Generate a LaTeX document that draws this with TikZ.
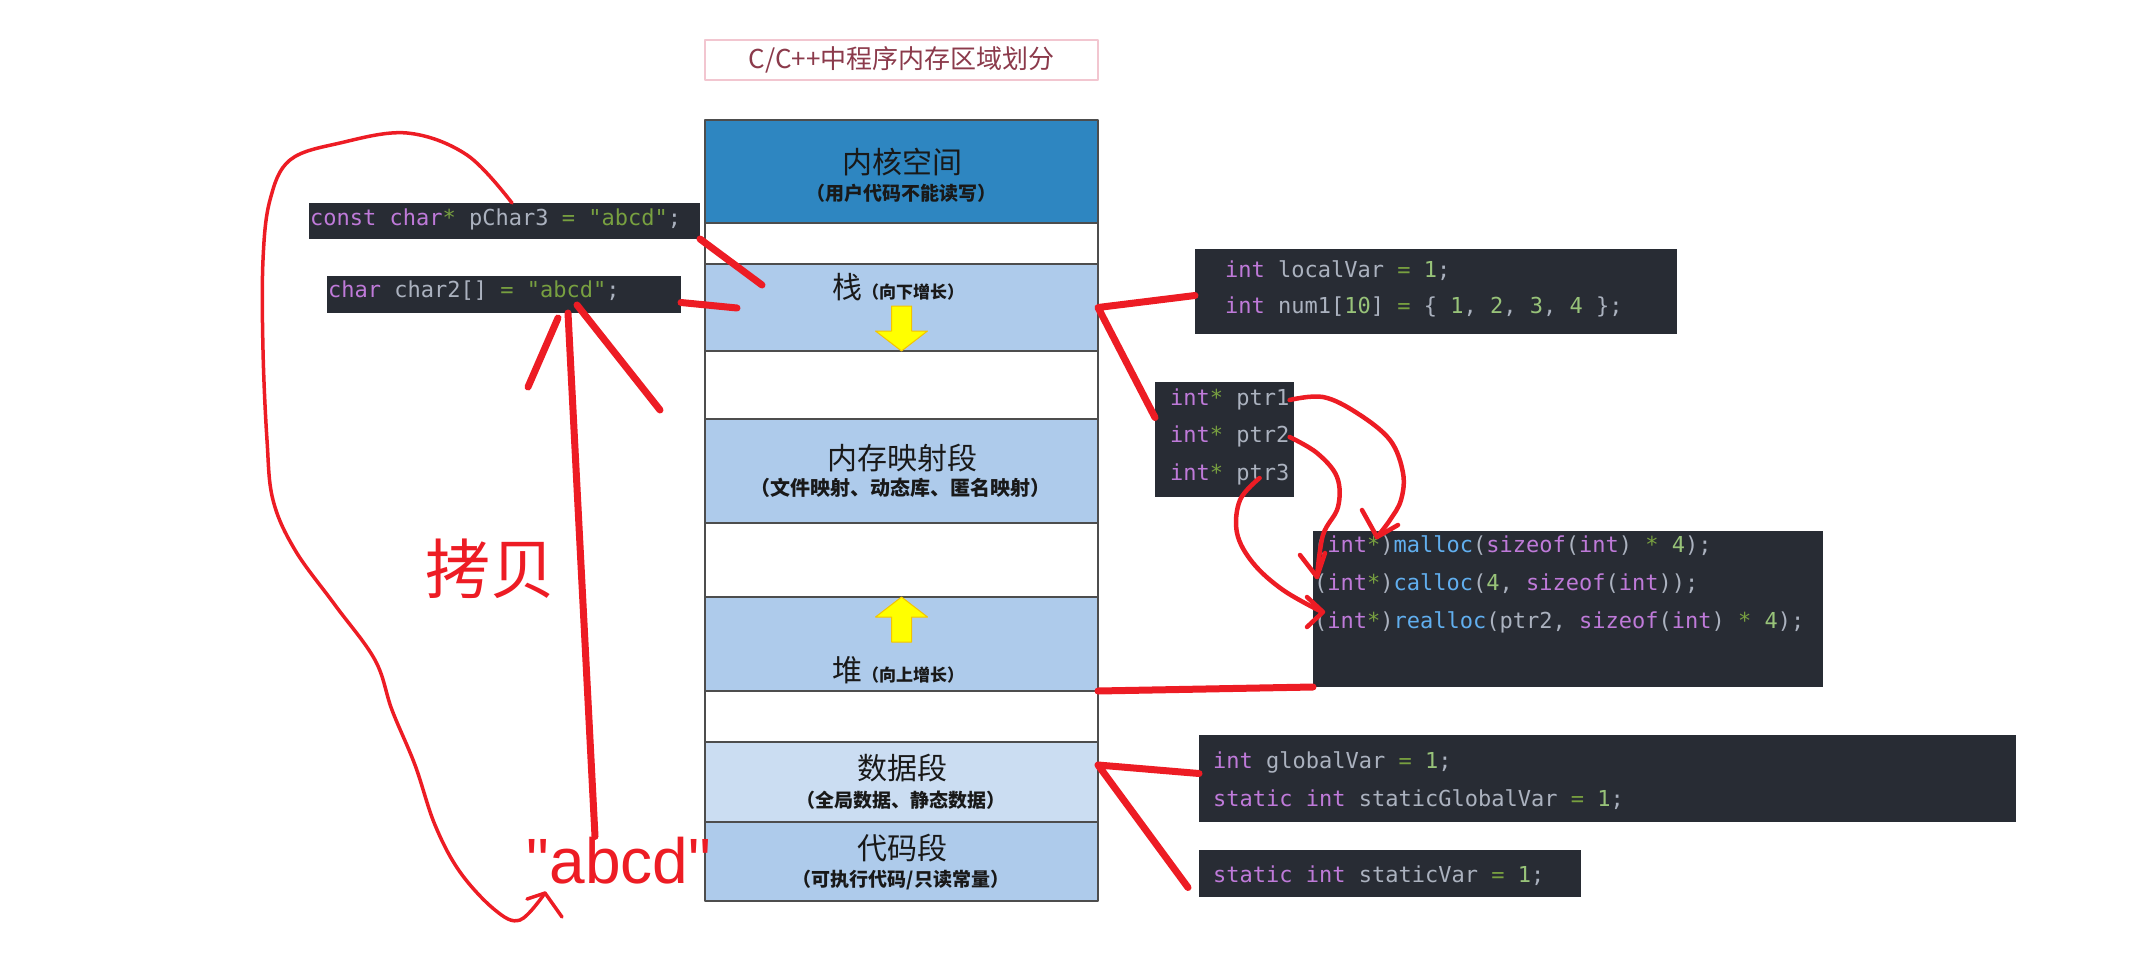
\documentclass[tikz,border=0pt]{standalone}
\usepackage{fontspec}
\newfontfamily\cjk{Noto Sans CJK SC}
\newfontfamily\codefont{DejaVu Sans Mono}
\newfontfamily\handfont{Liberation Sans}

% Colours
\definecolor{codebg}{HTML}{282C34}
\definecolor{codegray}{HTML}{ABB2BF}
\definecolor{codepurple}{HTML}{BF7AD9}
\definecolor{codegreen}{HTML}{98C379}
\definecolor{codeolive}{HTML}{78A040}
\definecolor{codeblue}{HTML}{61AFEF}
\definecolor{markred}{HTML}{ED1C24}
\definecolor{kernelblue}{HTML}{2E86C1}
\definecolor{segblue}{HTML}{AECBEB}
\definecolor{datablue}{HTML}{CBDDF2}
\definecolor{segline}{HTML}{4D4D4D}
\definecolor{titlepink}{HTML}{F2C6D0}
\definecolor{titlered}{HTML}{8B3A4B}
\definecolor{arrowyellow}{HTML}{FFFF00}
\definecolor{arrowedge}{HTML}{F5C400}

% Syntax colours of the snippets
\newcommand{\kw}[1]{\textcolor{codepurple}{#1}}
\newcommand{\nr}[1]{\textcolor{codegreen}{#1}}
\newcommand{\sg}[1]{\textcolor{codeolive}{#1}}
\newcommand{\fu}[1]{\textcolor{codeblue}{#1}}

\begin{document}
\begin{tikzpicture}[x = 1pt, y = -1pt, line join = round, line cap = round,
	segment/.style = {draw = segline, line width = 2pt, minimum width = 393pt, inner sep = 0pt, outer sep = 0pt},
	head/.style = {text = black!90, font = \cjk\fontsize{30}{36}\selectfont},
	note/.style = {text = black!90, font = \cjk\bfseries\fontsize{19}{23}\selectfont},
	codebox/.style = {fill = codebg, anchor = north west, inner sep = 0pt, outer sep = 0pt},
	codeline/.style = {anchor = west, inner sep = 0pt, text height = 16pt, text depth = 5pt, text = codegray, font = \codefont\fontsize{22}{26}\selectfont},
	redmark/.style = {draw = markred, line width = 7pt},
	scribble/.style = {draw = markred, line width = 4.5pt}]

	% Canvas

	\useasboundingbox (0, 0) rectangle (2133, 969);

	% Title

	\node (title) [draw = titlepink, line width = 2.5pt, minimum width = 393pt, minimum height = 40pt, text = titlered, font = \cjk\fontsize{26}{30}\selectfont] at (901.5, 60) {C/C++中程序内存区域划分};

	% Memory column

	\foreach \name/\mid/\h/\col in {kernel/171.5/103/kernelblue, gap-1/243.5/41/white, stack/307.5/87/segblue, gap-2/385/68/white, mmap/471/104/segblue, gap-3/560/74/white, heap/644/94/segblue, gap-4/716.5/51/white, data/782/80/datablue, code/861.5/79/segblue}
		\node (\name) [segment, fill = \col, minimum height = \h pt] at (901.5, \mid) {};

	\node (kernel-head) [head] at (902, 162) {内核空间};
	\node (kernel-note) [note] at (901, 193) {（用户代码不能读写）};
	\node (stack-head) [head] at (898, 287) {栈{\bfseries\fontsize{17}{20}\selectfont （向下增长）}};
	\node (mmap-head) [head] at (902, 458) {内存映射段};
	\node (mmap-note) [note, font = \cjk\bfseries\fontsize{20}{24}\selectfont] at (900, 488) {（文件映射、动态库、匿名映射）};
	\node (heap-head) [head] at (898, 670) {堆{\bfseries\fontsize{17}{20}\selectfont （向上增长）}};
	\node (data-head) [head] at (902, 768) {数据段};
	\node (data-note) [note] at (901, 800) {（全局数据、静态数据）};
	\node (code-head) [head] at (902, 848) {代码段};
	\node (code-note) [note] at (901, 880) {（可执行代码/只读常量）};

	% Growth directions

	\foreach \tip/\s in {stack.south/-1, heap.north/1}
		\draw [fill = arrowyellow, draw = arrowedge, line width = 1pt] (\tip) -- ++(-26, 20 * \s) -- ++(16, 0) -- ++(0, 25 * \s) -- ++(20, 0) -- ++(0, -25 * \s) -- ++(16, 0) -- cycle;

	% Code snippets

	\node (pchar-box) [codebox, minimum width = 391pt, minimum height = 36pt] at (309, 203) {};
	\node (pchar) [codeline] at (310, 220) {\kw{const char}\sg{*} pChar3 \sg{=} \sg{"abcd"};};

	\node (char2-box) [codebox, minimum width = 354pt, minimum height = 37pt] at (327, 276) {};
	\node (char2) [codeline] at (328, 292) {\kw{char} char2[] \sg{=} \sg{"abcd"};};

	\node (local-box) [codebox, minimum width = 482pt, minimum height = 85pt] at (1195, 249) {};
	\node (local-1) [codeline] at (1225, 272) {\kw{int} localVar \sg{=} \nr{1};};
	\node (local-2) [codeline] at (1225, 308) {\kw{int} num1[\nr{10}] \sg{=} \{ \nr{1}, \nr{2}, \nr{3}, \nr{4} \};};

	\node (ptr-box) [codebox, minimum width = 139pt, minimum height = 115pt] at (1155, 382) {};
	\node (ptr1) [codeline] at (1170, 400) {\kw{int}\sg{*} ptr1};
	\node (ptr2) [codeline] at (1170, 437) {\kw{int}\sg{*} ptr2};
	\node (ptr3) [codeline] at (1170, 475) {\kw{int}\sg{*} ptr3};

	\node (malloc-box) [codebox, minimum width = 510pt, minimum height = 156pt] at (1313, 531) {};
	\node (malloc) [codeline] at (1314, 547) {(\kw{int}\sg{*})\fu{malloc}(\kw{sizeof}(\kw{int}) \sg{*} \nr{4});};
	\node (calloc) [codeline] at (1314, 585) {(\kw{int}\sg{*})\fu{calloc}(\nr{4}, \kw{sizeof}(\kw{int}));};
	\node (realloc) [codeline] at (1314, 623) {(\kw{int}\sg{*})\fu{realloc}(ptr2, \kw{sizeof}(\kw{int}) \sg{*} \nr{4});};

	\node (global-box) [codebox, minimum width = 817pt, minimum height = 87pt] at (1199, 735) {};
	\node (global-1) [codeline] at (1213, 763) {\kw{int} globalVar \sg{=} \nr{1};};
	\node (global-2) [codeline] at (1213, 801) {\kw{static int} staticGlobalVar \sg{=} \nr{1};};

	\node (static-box) [codebox, minimum width = 382pt, minimum height = 47pt] at (1199, 850) {};
	\node (static) [codeline] at (1213, 877) {\kw{static int} staticVar \sg{=} \nr{1};};

	% Hand-drawn notes

	\node (copy-label) [text = markred, font = \cjk\fontsize{65}{70}\selectfont] at (490, 569) {拷贝};
	\node (copy-text) [anchor = base, inner sep = 0pt, text = markred, font = \handfont\fontsize{64}{70}\selectfont] at (619, 883) {"abcd"};

	\draw [redmark] (pchar-box.south east) -- (762, 285);
	\draw [redmark] ([yshift = -8pt] char2-box.east) -- (737, 308);

	\draw [redmark] ([yshift = -4pt] local-box.west) -- (stack.east) -- ([yshift = 22pt] ptr-box.west);
	\draw [redmark] (heap.south east) -- (malloc-box.south west);
	\draw [redmark] ([yshift = 5pt] global-box.west) -- ([yshift = 17pt] data.east) -- ([shift = {(-11pt, -14pt)}] static-box.west);

	\draw [redmark] ([xshift = 64pt] char2-box.south) -- ([xshift = -24pt] copy-text.north);
	\draw [redmark] ([xshift = 54pt, yshift = -5pt] char2-box.south) -- ++(-30, 69);
	\draw [redmark] ([xshift = 73pt, yshift = 8pt] char2-box.south) -- ++(83, 105);

	\draw [draw = markred, line width = 3.5pt] plot [smooth, tension = 0.6] coordinates {(512, 203) (467, 155) (407, 133) (340, 143) (290, 160) (270, 200) (263, 260) (263, 350) (267, 440) (273, 500) (295, 550) (335, 605) (375, 660) (392, 710) (415, 765) (435, 825) (460, 872) (495, 910) (520, 920) (545, 893)};
	\draw [draw = markred, line width = 3.5pt] (527, 899) -- (545, 893) -- (562, 917);

	% Pointers and their allocations

	\draw [scribble] plot [smooth, tension = 0.6] coordinates {(ptr1.east) (1323, 397) (1357, 413) (1390, 440) (1403, 473) (1401, 500) (1390, 520) (1377, 537)};
	\draw [scribble] (1362, 510) -- (1377, 537) -- (1398, 525);

	\draw [scribble] plot [smooth, tension = 0.6] coordinates {(ptr2.east) (1317, 453) (1337, 477) (1338, 507) (1323, 535) (1317, 577)};
	\draw [scribble] (1300, 555) -- (1317, 577) -- (1325, 553);

	\draw [scribble] plot [smooth, tension = 0.6] coordinates {([xshift = -30pt, yshift = -3pt] ptr3.east) (1240, 500) (1237, 533) (1253, 563) (1283, 590) (1322, 612)};
	\draw [scribble] (1307, 597) -- (1323, 612) -- (1307, 627);

\end{tikzpicture}
\end{document}
